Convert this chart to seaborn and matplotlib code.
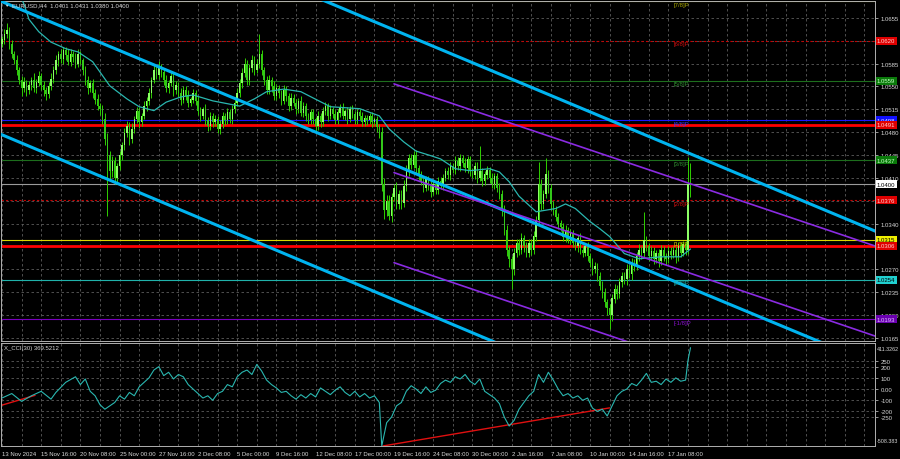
# Gráfico EURUSD H4 com canais, níveis de Murray e CCI
import numpy as np
import pandas as pd
import matplotlib
matplotlib.use("Agg")
import matplotlib.pyplot as plt
import matplotlib.transforms as mtransforms
import seaborn as sns

# Fechamentos (pips acima de 1.0000), uma linha = um dia de 6 barras H4
closes = [
    622, 630, 636, 615, 600, 590,
    575, 560, 548, 556, 545, 552,
    560, 548, 556, 566, 552, 545,
    538, 550, 562, 575, 590, 600,
    592, 605, 598, 588, 600, 595,
    585, 600, 590, 575, 560, 548,
    555, 540, 530, 520, 515, 500,
    470, 445, 420, 435, 410, 428,
    445, 460, 478, 490, 470, 485,
    500, 512, 495, 505, 520, 528,
    540, 560, 575, 568, 580, 572,
    560, 548, 555, 566, 545, 552,
    540, 530, 545, 536, 525, 530,
    540, 528, 512, 505, 515, 498,
    490, 505, 495, 500, 485, 492,
    505, 498, 510, 500, 515, 525,
    540, 555, 570, 585, 560, 578,
    590, 575, 585, 600, 575, 560,
    545, 560, 550, 535, 548, 540,
    528, 545, 535, 520, 532, 525,
    515, 528, 510, 520, 505, 498,
    510, 500, 490, 505, 495, 512,
    520, 505, 515, 508, 498, 510,
    518, 505, 512, 500, 515, 508,
    498, 510, 505, 495, 502, 498,
    505, 495, 500, 488, 480, 400,
    360, 375, 352, 380, 395, 370,
    385, 372, 398, 420, 440, 430,
    445, 425, 415, 405, 395, 408,
    398, 388, 400, 392, 405, 398,
    410, 420, 415, 428, 422, 435,
    428, 440, 432, 425, 438, 420,
    415, 428, 410, 420, 405, 415,
    422, 410, 400, 412, 395, 385,
    360, 330, 300, 285, 270, 295,
    310, 300, 318, 305, 295, 310,
    300, 320, 345, 400, 370, 385,
    415, 395, 370, 360, 350, 340,
    335, 320, 330, 315, 325, 310,
    305, 318, 300, 295, 305, 290,
    280, 270, 275, 260, 245, 235,
    220, 210, 200, 225, 240, 232,
    250, 260, 255, 270, 262, 280,
    275, 290, 300, 295, 315, 305,
    290, 298, 285, 295, 282, 300,
    290, 285, 298, 292, 300, 288,
    305, 295, 308, 300, 401, 400,
]
first_open = 615

# sombras (pips acima do corpo / abaixo do corpo)
wick_hi = [
    6, 8, 12, 5, 7, 4,   9, 5, 6, 8, 4, 7,   5, 10, 6, 8, 5, 6,   4, 7, 8, 6, 9, 5,
    8, 6, 5, 9, 7, 4,    6, 8, 5, 4, 7, 6,   5, 7, 6, 8, 4, 6,    10, 8, 6, 9, 7, 5,
    6, 5, 8, 7, 6, 9,    5, 7, 6, 4, 8, 6,   7, 5, 8, 6, 9, 5,    6, 8, 5, 7, 4, 6,
    5, 7, 6, 5, 8, 4,    6, 5, 7, 6, 4, 8,   5, 6, 4, 7, 5, 6,    6, 4, 7, 5, 6, 8,
    7, 6, 8, 9, 6, 7,    8, 6, 7, 30, 6, 5,  6, 7, 5, 8, 6, 4,    5, 7, 6, 5, 8, 6,
    6, 5, 7, 6, 4, 5,    5, 6, 4, 7, 5, 6,   6, 5, 7, 4, 6, 5,    5, 6, 4, 7, 5, 6,
    4, 6, 5, 6, 5, 4,    5, 6, 4, 5, 4, 8,   10, 8, 9, 7, 6, 8,   7, 6, 8, 9, 6, 7,
    6, 8, 5, 6, 7, 5,    5, 7, 6, 5, 6, 7,   6, 5, 7, 6, 5, 8,    7, 6, 5, 8, 6, 5,
    5, 6, 7, 39, 5, 6,   6, 5, 7, 6, 5, 7,   6, 8, 7, 6, 5, 8,    7, 6, 8, 5, 6, 7,
    6, 8, 7, 35, 8, 6,   25, 7, 6, 5, 7, 6,  5, 6, 7, 5, 6, 5,    6, 5, 7, 6, 5, 6,
    5, 7, 6, 5, 6, 7,    6, 5, 6, 7, 8, 6,   7, 6, 5, 8, 6, 7,    6, 7, 8, 6, 43, 6,
    5, 7, 6, 5, 6, 7,    6, 5, 7, 6, 5, 6,   7, 6, 5, 6, 41, 31,
]
wick_lo = [
    5, 7, 6, 8, 6, 5,    8, 6, 12, 7, 9, 6,  7, 6, 8, 5, 7, 9,    8, 6, 5, 7, 6, 8,
    6, 7, 8, 5, 6, 7,    7, 5, 6, 8, 7, 9,   6, 8, 7, 6, 8, 7,    9, 93, 12, 8, 10, 7,
    6, 8, 7, 5, 9, 6,    7, 6, 8, 6, 5, 7,   6, 8, 5, 7, 6, 8,    7, 6, 8, 5, 9, 6,
    6, 8, 5, 7, 6, 5,    5, 7, 6, 8, 5, 7,   8, 6, 7, 5, 6, 8,    6, 7, 5, 6, 8, 5,
    5, 6, 7, 6, 8, 7,    6, 7, 5, 6, 8, 7,   7, 6, 8, 6, 5, 7,    6, 5, 7, 8, 6, 5,
    7, 6, 5, 7, 8, 6,    5, 7, 8, 6, 7, 5,   6, 8, 5, 7, 6, 5,    7, 5, 6, 8, 5, 6,
    6, 5, 7, 5, 6, 7,    5, 7, 6, 8, 9, 10,  13, 8, 7, 9, 6, 8,   7, 9, 6, 8, 7, 6,
    5, 7, 8, 6, 7, 5,    6, 8, 5, 7, 6, 5,   7, 5, 6, 8, 5, 6,    6, 7, 5, 6, 8, 7,
    5, 6, 8, 5, 7, 6,    6, 8, 5, 7, 6, 8,   9, 8, 10, 12, 30, 9, 7, 8, 6, 9, 7, 6,
    8, 7, 6, 8, 9, 7,    6, 8, 9, 7, 6, 8,   7, 6, 8, 5, 7, 6,    6, 8, 7, 6, 5, 8,
    7, 9, 6, 8, 7, 9,    8, 10, 21, 9, 7, 8, 6, 8, 7, 9, 6, 8,    7, 6, 8, 9, 6, 7,
    8, 6, 7, 5, 9, 6,    7, 8, 6, 7, 5, 8,   6, 7, 5, 8, 6, 20,
]

# média móvel (barra, pips)
ma_bars = [7, 9, 11, 15, 20, 26, 31, 37, 44, 51, 56, 62, 67, 73, 78, 86, 97, 103, 108, 115,
           122, 134, 146, 154, 158, 164, 169, 175, 179, 185, 191, 199, 203, 207, 211, 218,
           226, 230, 234, 240, 244, 248, 254, 260, 269, 277, 281]
ma_pips = [692, 676, 653, 634, 618, 608, 603, 588, 551, 531, 519, 513, 526, 534, 537, 528,
           520, 531, 542, 546, 542, 519, 516, 505, 485, 465, 451, 444, 439, 424, 421, 424,
           419, 404, 382, 358, 363, 370, 363, 343, 332, 320, 294, 286, 289, 289, 301]

# CCI(30)
cci_bars = [0, 4, 8, 12, 16, 20, 22, 26, 30, 32] + list(range(34, 155, 2)) + [155] \
    + list(range(157, 280, 2)) + [280, 281]
cci_vals = [-80, -40, -110, -60, -20, -90, -30, 60, 110, 40,
            90, -20, -60, -140, -180, -150, -120, -60, -90, -30,
            -60, 20, 60, 100, 170, 200, 120, 150, 90, 130,
            110, 40, 0, -40, -80, -60, -100, -40, -20, 40,
            20, 110, 150, 170, 130, 220, 160, 80, 40, 10,
            -30, -20, -60, -90, -50, -80, -40, -70, 10, -20,
            -50, -10, 20, -30, -60, -20, -70, -40, -80, -60,
            -120, -508, -300, -250, -150, -120, -20, 30, 0, -40,
            20, -30, -10, 50, 80, 60, 110, 90, 130, 70,
            40, 90, -20, -50, -80, -130, -250, -330, -280, -180,
            -120, -60, -20, 130, 60, 150, 80, 0, -60, -40,
            -80, -60, -100, -80, -170, -200, -180, -240, -150, -60,
            -20, 0, 50, 30, 80, 140, 60, 70, 40, 90,
            60, 100, 70, 80, 260, 369.5]
cci_min, cci_max = -508.3831, 411.3262
cci_ticks = [250, 200, 100, 0, -100, -200, -250]
cci_tick_labels = ["250", "200", "100", "0.00", "-100", "-200", "-250"]

# níveis de Murray
murray_names = ["[7/8]P", "[6/8]P", "[5/8]P", "[4/8]P", "[3/8]P", "[2/8]P", "[1/8]P", "[0/8]P", "[-1/8]P"]
murray_levels = [1.0681, 1.0620, 1.0559, 1.0498, 1.0437, 1.0376, 1.0315, 1.0254, 1.0193]
murray_colors = ["#a8a800", "#c80000", "#1d6e1d", "#1818ff", "#1d6e1d", "#c80000", "#d8d800", "#20b2aa", "#7a00c0"]
murray_text_colors = ["#a8a800", "#d01010", "#2f8a2f", "#3a3aff", "#2f8a2f", "#d01010", "#c8c800", "#20b2aa", "#8a10d0"]

red_levels = [1.0491, 1.0306]
current_price = 1.0400

# linhas de canal: pares de âncoras (barra, preço)
blue_lines = [((149, 1.0654), (356, 1.0329)), ((0, 1.0680), (333, 1.0160)), ((0, 1.0476), (200, 1.0160))]
purple_lines = [((160, 1.0554), (356, 1.0306)), ((160, 1.0418), (356, 1.0168)), ((160, 1.0280), (356, 1.0031))]
cci_red_lines = [((-1, -150), (13.5, -56)), ((155.5, -508), (248, -168))]

# etiquetas de preço à direita
box_prices = [1.0620, 1.0559, 1.0498, 1.0491, 1.0437, 1.0400, 1.0376, 1.0315, 1.0306, 1.0254, 1.0193]
box_colors = ["#e00000", "#0a7a0a", "#1010ff", "#e00000", "#0a7a0a", "#ffffff", "#e00000", "#f0f000", "#e00000", "#20d0d0", "#6a00b0"]
box_text = ["#ffd0d0", "#c0ffc0", "#e0e0ff", "#ffd0d0", "#c0ffc0", "#000000", "#ffd0d0", "#000000", "#ffd0d0", "#000000", "#e0c0ff"]

sns.set_theme(style="dark", rc={"axes.facecolor": "black", "figure.facecolor": "black"})
plt.rcParams["font.family"] = ["Liberation Sans", "DejaVu Sans"]

FS = 4.3
GRID = "#5c5c5c"
TXT = "#d8d8d8"
XMAX = 356.3

# datas das barras H4 (sem fins de semana e feriados)
feriados = {pd.Timestamp("2024-12-25"), pd.Timestamp("2025-01-01")}
dias = [d for d in pd.date_range("2024-11-13", "2025-02-28") if d.weekday() < 5 and d not in feriados]
bar_times = [d + pd.Timedelta(hours=4 * h) for d in dias for h in range(6)]

n = len(closes)
x = np.arange(n)
c = np.array(closes, dtype=float)
o = np.concatenate([[first_open], c[:-1]])
top = np.maximum(o, c)
bot = np.minimum(o, c)
hi = top + np.array(wick_hi)
lo = bot - np.array(wick_lo)

def p(v):
    return 1 + np.asarray(v, dtype=float) / 10000

fig = plt.figure(figsize=(9, 4.6), dpi=100)
ax = fig.add_axes([1 / 900, 118 / 460, 874 / 900, 340 / 460])
ax2 = fig.add_axes([1 / 900, 13 / 460, 874 / 900, 103 / 460])

for a in (ax, ax2):
    a.set_facecolor("black")
    a.set_xlim(-0.4, XMAX)
    for s in a.spines.values():
        s.set_color("#b0b0b0")
        s.set_linewidth(0.7)
    for b in range(0, 357, 8):
        a.axvline(b, color=GRID, lw=0.6, ls=(0, (3, 3)), zorder=0)

# ---- painel de preço ----
ax.set_ylim(1.0160, 1.0681)
yt = np.round(np.arange(1.0165, 1.0680, 0.0035), 4)
for v in yt:
    ax.axhline(v, color=GRID, lw=0.6, ls=(0, (3, 3)), zorder=0)

for lvl, col in zip(murray_levels, murray_colors):
    ls = (0, (2, 2)) if col == "#c80000" else "-"
    ax.axhline(lvl, color=col, lw=0.8, ls=ls, zorder=1)
ax.axhline(current_price, color="#9a9a9a", lw=0.8, zorder=1)
for lvl in red_levels:
    ax.axhline(lvl, color="#ff0000", lw=2.0, zorder=2)

for name, lvl, col in zip(murray_names, murray_levels, murray_text_colors):
    ax.text(274, lvl - 0.0001, name, color=col, fontsize=FS, ha="left", va="top", zorder=6)

# velas
bull = c >= o
ax.vlines(x, p(lo), p(hi), color="#2fd000", lw=0.7, zorder=3)
ax.bar(x[bull], p(top[bull]) - p(bot[bull]) + 0.00002, bottom=p(bot[bull]), width=0.6,
       color="#8cff66", linewidth=0, zorder=4)
ax.bar(x[~bull], p(top[~bull]) - p(bot[~bull]) + 0.00002, bottom=p(bot[~bull]), width=0.6,
       color="#33c81a", linewidth=0, zorder=4)

sns.lineplot(x=ma_bars, y=p(ma_pips), ax=ax, color="#2ab7b0", lw=0.9, estimator=None, zorder=5)

# canais
for (x1, y1), (x2, y2) in blue_lines:
    k = (y2 - y1) / (x2 - x1)
    xs = np.array([-1, XMAX + 1])
    ax.plot(xs, y1 + k * (xs - x1), color="#00b4f0", lw=2.2, zorder=5)
for (x1, y1), (x2, y2) in purple_lines:
    k = (y2 - y1) / (x2 - x1)
    xs = np.array([x1, XMAX + 1])
    ax.plot(xs, y1 + k * (xs - x1), color="#8a2be2", lw=1.2, zorder=5)

# rótulos de preço que ficam por baixo das etiquetas coloridas
ytl = ["" if min(abs(v - bp) for bp in box_prices) < 0.0003 else f"{v:.4f}" for v in yt]
ax.yaxis.tick_right()
ax.set_yticks(yt)
ax.set_yticklabels(ytl)
ax.tick_params(axis="y", colors="#b0b0b0", labelcolor=TXT, labelsize=FS, length=2, width=0.6, pad=2)
ax.set_xticks(range(0, 357, 8))
ax.tick_params(axis="x", length=0, labelbottom=False)
ax.set_xlabel("")
ax.set_ylabel("")

trans = mtransforms.blended_transform_factory(ax.transAxes, ax.transData)
for pr, fc, tc in zip(box_prices, box_colors, box_text):
    ax.text(1 + 2 / 874, pr, f"{pr:.4f}", transform=trans, fontsize=FS, color=tc,
            ha="left", va="center", clip_on=False, zorder=10,
            bbox=dict(boxstyle="square,pad=0.25", fc=fc, ec="none"))

fig.text(4 / 900, 1 - 6 / 460, "\u25bc", fontsize=3.2, color=TXT, va="center")
fig.text(12 / 900, 1 - 6 / 460, "EURUSD,H4  1.0401 1.0431 1.0380 1.0400", fontsize=FS, color=TXT, va="center")

# ---- painel CCI ----
ax2.set_ylim(cci_min, cci_max)
for v in cci_ticks:
    ax2.axhline(v, color=GRID, lw=0.6, ls=(0, (3, 3)), zorder=0)
for (x1, y1), (x2, y2) in cci_red_lines:
    ax2.plot([x1, x2], [y1, y2], color="#e01010", lw=1.0, zorder=2)
sns.lineplot(x=cci_bars, y=cci_vals, ax=ax2, color="#2ab7b0", lw=0.8, estimator=None, zorder=3)

ax2.yaxis.tick_right()
ax2.set_yticks(cci_ticks)
ax2.set_yticklabels(cci_tick_labels)
ax2.tick_params(axis="y", colors="#b0b0b0", labelcolor=TXT, labelsize=FS, length=2, width=0.6, pad=2)
ax2.set_xlabel("")
ax2.set_ylabel("")

trans2 = mtransforms.blended_transform_factory(ax2.transAxes, ax2.transData)
ax2.text(1 + 2 / 874, cci_max - 25, f"{cci_max:.4f}", transform=trans2, fontsize=3.9,
         color=TXT, ha="left", va="top", clip_on=False)
ax2.text(1 + 2 / 874, cci_min + 25, f"{cci_min:.3f}", transform=trans2, fontsize=3.9,
         color=TXT, ha="left", va="bottom", clip_on=False)

xt = list(range(0, 357, 8))
xl = []
for b in xt:
    if b % 16 == 0 and b <= 272:
        t = bar_times[b]
        xl.append("13 Nov 2024" if b == 0 else f"{t.day} {t.strftime('%b %H:%M')}")
    else:
        xl.append("")
ax2.set_xticks(xt)
ax2.set_xticklabels(xl, ha="left")
ax2.tick_params(axis="x", colors="#b0b0b0", labelcolor=TXT, labelsize=FS, length=2, width=0.6, pad=1.5)

fig.text(4 / 900, 1 - 349 / 460, "X_CCI(30) 369.5212", fontsize=FS, color=TXT, va="center")

fig.savefig("out.png", dpi=100, facecolor="black")
